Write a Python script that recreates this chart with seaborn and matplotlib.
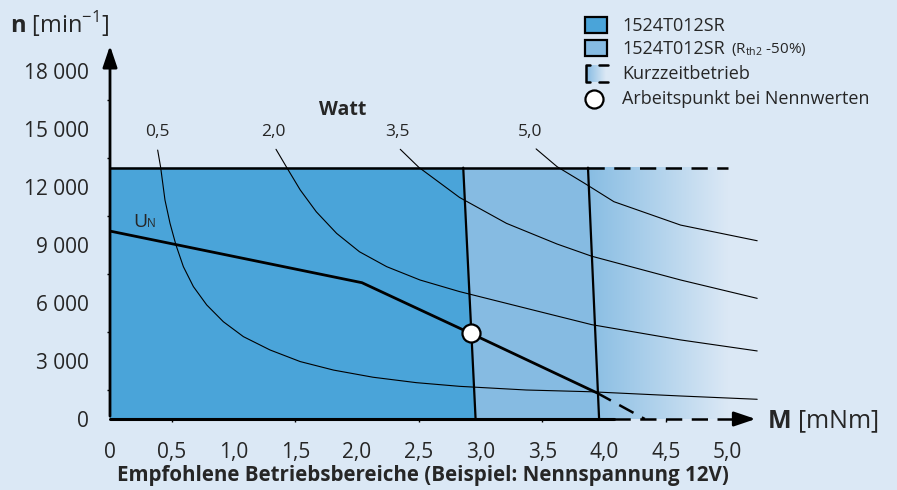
import numpy as np
import pandas as pd
import seaborn as sns
import matplotlib.pyplot as plt
from matplotlib.patches import Polygon, Rectangle
from matplotlib.colors import LinearSegmentedColormap

# torque M [mNm] vs speed n [min^-1]
n_max = 13000
bound_std_M = [2.86, 2.96]      # 1524T012SR limit (at n_max, at n = 0)
bound_rth_M = [3.87, 3.96]      # 1524T012SR (Rth2 -50%)
short_term_M = 5.0              # end of Kurzzeitbetrieb

un_M = [0.0, 2.04, 2.92, 3.94]
un_n = [9720, 7050, 4430, 1360]
un_ext_M = [3.94, 4.33]
un_ext_n = [1360, 0]

work_M = [2.92]
work_n = [4430]

watt = ["0,5", "2,0", "3,5", "5,0"]
watt_label_M = [0.38, 1.32, 2.33, 3.40]
watt_label_n = 14850

p05_M = [0.386, 0.41, 0.445, 0.486, 0.534, 0.594, 0.675, 0.783, 0.918, 1.08, 1.296,
         1.54, 1.81, 2.13, 2.48, 2.83, 3.37, 3.89, 4.62, 5.24]
p05_n = [13910, 13020, 11330, 10120, 9000, 7880, 6850, 5900, 5030, 4260, 3570,
         2970, 2530, 2160, 1880, 1690, 1500, 1410, 1190, 1020]
p20_M = [1.344, 1.43, 1.54, 1.67, 1.835, 2.02, 2.24, 2.51, 2.83, 3.48, 3.90, 4.62, 5.24]
p20_n = [13950, 13020, 11850, 10720, 9600, 8650, 7880, 7190, 6590, 5550, 4880, 4090, 3520]
p35_M = [2.35, 2.50, 2.83, 3.21, 3.62, 3.90, 4.62, 5.24]
p35_n = [13950, 13020, 11460, 10120, 9050, 8420, 7190, 6240]
p50_M = [3.45, 3.62, 3.84, 4.08, 4.62, 5.24]
p50_n = [13970, 13050, 12200, 11240, 10030, 9220]

x_ticks = [0, 1, 2, 3, 4, 5]
x_labels = ["0", "1,0", "2,0", "3,0", "4,0", "5,0"]
x_ticks_half = [0.5, 1.5, 2.5, 3.5, 4.5]
x_labels_half = ["0,5", "1,5", "2,5", "3,5", "4,5"]
y_ticks = [0, 3000, 6000, 9000, 12000, 15000, 18000]
y_labels = ["0", "3 000", "6 000", "9 000", "12 000", "15 000", "18 000"]

bg = "#dbe8f5"
dark = "#4aa4d9"
light = "#86bbe2"

sns.set_theme(style="white", rc={"axes.facecolor": bg, "figure.facecolor": bg})
plt.rcParams["font.family"] = ["Open Sans", "DejaVu Sans"]
plt.rcParams["mathtext.fontset"] = "custom"
plt.rcParams["mathtext.rm"] = "Open Sans"
plt.rcParams["mathtext.bf"] = "Open Sans:bold"

fig = plt.figure(figsize=(8.97, 4.90), dpi=100)
ax = fig.add_axes([110 / 897, 71 / 490, 654.6 / 897, 377 / 490])

# operating areas
grad = LinearSegmentedColormap.from_list("fade", ["#88bde3", bg])
ax.imshow(np.linspace(0, 1, 256)[None, :], extent=[bound_rth_M[0], short_term_M, 0, n_max],
          aspect="auto", cmap=grad, origin="lower", zorder=0.8)
ax.add_patch(Polygon([(0, 0), (0, n_max), (bound_std_M[0], n_max), (bound_std_M[1], 0)],
                     fc=dark, ec="none", zorder=1.2))
ax.add_patch(Polygon([(bound_std_M[0], n_max), (bound_rth_M[0], n_max), (bound_rth_M[1], 0), (bound_std_M[1], 0)],
                     fc=light, ec="none", zorder=1.1))

# Watt hyperbolas
curves = pd.concat([
    pd.DataFrame({"M": m, "n": n, "P": p})
    for m, n, p in [(p05_M, p05_n, watt[0]), (p20_M, p20_n, watt[1]),
                    (p35_M, p35_n, watt[2]), (p50_M, p50_n, watt[3])]
])
sns.lineplot(data=curves, x="M", y="n", units="P", estimator=None, sort=False,
             color="black", lw=0.8, ax=ax, legend=False, zorder=3)
for lab, m in zip(watt, watt_label_M):
    ax.text(m, watt_label_n, lab, ha="center", va="center", fontsize=12.5)
ax.text(1.88, 16000, "Watt", ha="center", va="center", fontsize=14, fontweight="bold")

dash = (0, (6.5, 3.8))
ax.plot(bound_std_M, [n_max, 0], color="black", lw=1.6, zorder=4)
ax.plot(bound_rth_M, [n_max, 0], color="black", lw=1.6, zorder=4)
ax.plot([0, bound_rth_M[0]], [n_max, n_max], color="black", lw=1.8, zorder=4)
ax.plot([bound_rth_M[0], short_term_M], [n_max, n_max], color="black", lw=1.8, ls=dash, zorder=4)

# U_N characteristic
sns.lineplot(x=un_M, y=un_n, sort=False, color="black", lw=2.0, ax=ax, zorder=5)
ax.plot(un_ext_M, un_ext_n, color="black", lw=1.8, ls=dash, zorder=5)
ax.plot(work_M, work_n, "o", ms=13, mfc="white", mec="black", mew=1.6, zorder=6)
ax.text(0.186, 9930, "U", fontsize=14, ha="left", va="baseline")
ax.text(0.30, 9930, "N", fontsize=8.5, ha="left", va="baseline")

# axes with arrows
ax.plot([0, 4.08], [0, 0], color="black", lw=2.2, zorder=5, clip_on=False)
ax.plot([4.08, 5.12], [0, 0], color="black", lw=1.8, ls=dash, zorder=5, clip_on=False)
arrow = dict(arrowstyle="-|>,head_length=0.65,head_width=0.22", color="black", lw=2.0, mutation_scale=20)
ax.annotate("", xy=(5.25, 0), xytext=(5.1, 0), arrowprops=arrow, zorder=6)
ax.annotate("", xy=(0, 19450), xytext=(0, 0), arrowprops=arrow, zorder=6)

for s in ax.spines.values():
    s.set_visible(False)
ax.set_xlim(0, 5.3)
ax.set_ylim(0, 19500)
ax.set_xlabel("")
ax.set_ylabel("")
ax.set_xticks(x_ticks, labels=x_labels)
ax.set_xticks(x_ticks_half, labels=x_labels_half, minor=True)
ax.set_yticks(y_ticks, labels=y_labels)
ax.set_yticks([1500 + 3000 * i for i in range(6)], minor=True)
ax.tick_params(axis="x", which="major", direction="out", length=6.5, width=1.2, pad=10, labelsize=15, color="black")
ax.tick_params(axis="x", which="minor", direction="out", length=2.2, width=1.0, pad=14.3, labelsize=15, color="black", bottom=True)
ax.tick_params(axis="y", which="major", direction="out", length=7, width=1.2, pad=8, labelsize=15, color="black")
ax.tick_params(axis="y", which="minor", direction="out", length=2.2, width=1.0, color="black", left=True)

# overlay in pixel coordinates for titles and legend
ov = fig.add_axes([0, 0, 1, 1], zorder=10)
ov.set_xlim(0, 897)
ov.set_ylim(490, 0)
ov.axis("off")

ov.text(10, 33, r"$\mathbf{n}$ [min$^{\mathrm{-1}}$]", fontsize=17, ha="left", va="baseline")
ov.text(767, 428, r"$\mathbf{M}$ [mNm]", fontsize=18, ha="left", va="baseline")
ov.text(423, 481, "Empfohlene Betriebsbereiche (Beispiel: Nennspannung 12V)",
        fontsize=14.8, fontweight="bold", ha="center", va="baseline")

ov.add_patch(Rectangle((585, 17), 22, 16, fc=dark, ec="black", lw=1.6))
ov.add_patch(Rectangle((585, 40), 22, 16, fc=light, ec="black", lw=1.6))
ov.imshow(np.linspace(0, 1, 64)[None, :], extent=[586, 606, 82, 65], aspect="auto",
          cmap=LinearSegmentedColormap.from_list("leg", [light, bg]))
ov.plot([590, 586, 586, 590], [65, 65, 82, 82], color="black", lw=1.8)
ov.plot([599, 608], [65, 65], color="black", lw=1.8)
ov.plot([599, 608], [82, 82], color="black", lw=1.8)
ov.plot([594], [99], "o", ms=13, mfc="white", mec="black", mew=1.6)
ov.set_xlim(0, 897)
ov.set_ylim(490, 0)

ov.text(622, 26, "1524T012SR", fontsize=13, va="center")
ov.text(622, 49, "1524T012SR", fontsize=13, va="center")
ov.text(731, 49, r"(R$_{\mathrm{th2}}$ -50%)", fontsize=11, va="center")
ov.text(622, 74, "Kurzzeitbetrieb", fontsize=13, va="center")
ov.text(622, 99, "Arbeitspunkt bei Nennwerten", fontsize=13, va="center")

fig.savefig("out.png", dpi=100, facecolor=bg)
